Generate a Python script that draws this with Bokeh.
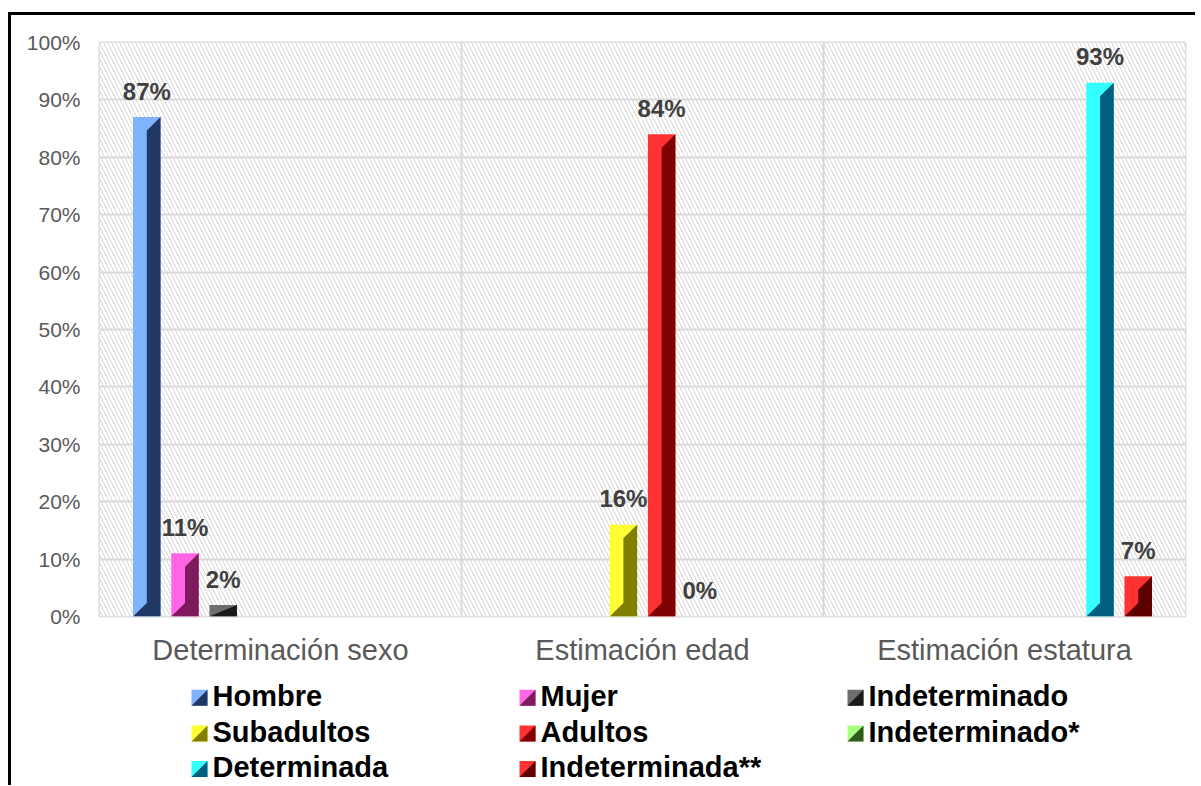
from bokeh.plotting import figure
from bokeh.models import Range1d, FixedTicker, ColumnDataSource
from bokeh.layouts import column
from bokeh.embed import file_html
from bokeh.resources import INLINE
from bokeh.core.properties import value

# ---------------- data ----------------
categories = ["Determinación sexo", "Estimación edad", "Estimación estatura"]
series = ["Hombre", "Mujer", "Indeterminado", "Subadultos", "Adultos",
          "Indeterminado*", "Determinada", "Indeterminada**"]
series_category = [0, 0, 0, 1, 1, 1, 2, 2]
values = [87, 11, 2, 16, 84, 0, 93, 7]
light_colors = ["#80b3ff", "#ff66e6", "#6e6e6e", "#ffff33", "#ff3333",
                "#a9ff80", "#33ffff", "#ff3333"]
dark_colors = ["#1f3864", "#7f1a5c", "#1a1a1a", "#7f7f00", "#7f0000",
               "#2f5a1f", "#005f7f", "#5c0000"]
y_ticks = [0, 10, 20, 30, 40, 50, 60, 70, 80, 90, 100]
y_tick_labels = ["0%", "10%", "20%", "30%", "40%", "50%", "60%", "70%",
                 "80%", "90%", "100%"]

# ---------------- layout constants ----------------
PAGE_X, PAGE_Y = 11, 15          # where the figures start (inside the black frame)
FRAME_L, FRAME_T = 99, 42        # plot area, window pixels
FRAME_W, FRAME_H = 1086, 574
MAIN_BOTTOM = 672                # window y where the legend panel starts
LG_H = 113
RIGHT_B = 10

n_cat = len(categories)
n_series = len(series)
px_x = n_cat / FRAME_W
px_y = 100.0 / FRAME_H
slot = 38.2 * px_x
bar_w = 27.5 * px_x
bevel_px = 13.5
label_gap_px = 26

centers = [c + 0.5 + (i - (n_series - 1) / 2) * slot
           for i, c in enumerate(series_category)]

bars = ColumnDataSource(dict(
    left=[c - bar_w / 2 for c in centers],
    right=[c + bar_w / 2 for c in centers],
    top=values,
    color=light_colors,
))

xs, ys, dcols = [], [], []
for c, v, dc in zip(centers, values, dark_colors):
    if v <= 0:
        continue
    b = min(bevel_px, v / px_y / 2)
    by = b * px_y
    l, r = c - bar_w / 2, c + bar_w / 2
    xs.append([c, r, r, l, c])
    ys.append([v - by, v, 0, 0, by])
    dcols.append(dc)
shades = ColumnDataSource(dict(xs=xs, ys=ys, color=dcols))

labels = ColumnDataSource(dict(
    x=centers,
    y=[v + label_gap_px * px_y for v in values],
    text=[f"{v}%" for v in values],
))

# ---------------- main chart ----------------
p = figure(frame_width=FRAME_W, frame_height=FRAME_H,
           x_range=Range1d(0, n_cat), y_range=Range1d(0, 100),
           output_backend="svg", toolbar_location=None,
           min_border_left=FRAME_L - PAGE_X, min_border_right=RIGHT_B,
           min_border_top=FRAME_T - PAGE_Y,
           min_border_bottom=MAIN_BOTTOM - (FRAME_T + FRAME_H),
           background_fill_color="white", border_fill_color="white")

p.quad(left=0, right=n_cat, bottom=0, top=100, fill_color="white",
       line_color=None, hatch_pattern="left_diagonal_line",
       hatch_color="#d4d4d4", hatch_scale=8, hatch_weight=1, level="image")

p.xaxis.ticker = FixedTicker(ticks=[i + 0.5 for i in range(n_cat)])
p.xaxis.major_label_overrides = {i + 0.5: cat for i, cat in enumerate(categories)}
p.yaxis.ticker = FixedTicker(ticks=y_ticks)
p.yaxis.major_label_overrides = {t: l for t, l in zip(y_ticks, y_tick_labels)}

for ax in (p.xaxis, p.yaxis):
    ax.axis_line_color = None
    ax.major_tick_line_color = None
    ax.minor_tick_line_color = None
    ax.major_tick_out = 0
    ax.major_tick_in = 0
    ax.major_label_text_font = "Liberation Sans"
    ax.major_label_text_color = "#595959"
p.xaxis.major_label_text_font_size = "29px"
p.xaxis.major_label_standoff = 17
p.yaxis.major_label_text_font_size = "21px"
p.yaxis.major_label_standoff = 19

p.xgrid.ticker = FixedTicker(ticks=list(range(1, n_cat)))
p.ygrid.ticker = FixedTicker(ticks=y_ticks)
for g in (p.xgrid, p.ygrid):
    g.grid_line_color = "#d9d9d9"
    g.grid_line_width = 2
p.outline_line_color = "#d9d9d9"
p.outline_line_width = 2

p.quad(left="left", right="right", bottom=0, top="top", source=bars,
       fill_color="color", line_color=None)
p.patches(xs="xs", ys="ys", source=shades, fill_color="color", line_color=None)
p.text(x="x", y="y", text="text", source=labels,
       text_font=value("Liberation Sans"), text_font_style="bold",
       text_font_size="24px", text_align="center",
       text_baseline="alphabetic", text_color="#404040")

# ---------------- legend panel (frame aligned with the plot area) ----------------
lg = figure(frame_width=FRAME_W, frame_height=LG_H,
            x_range=Range1d(FRAME_L, FRAME_L + FRAME_W),
            y_range=Range1d(MAIN_BOTTOM + LG_H, MAIN_BOTTOM),
            output_backend="svg", toolbar_location=None,
            min_border_left=FRAME_L - PAGE_X, min_border_right=RIGHT_B,
            min_border_top=0, min_border_bottom=0,
            x_axis_type=None, y_axis_type=None,
            outline_line_color=None, background_fill_color="white",
            border_fill_color="white")
lg.grid.visible = False

col_x = [191, 519, 847]
row_top = [689.3, 725.1, 760.6]
sq = 16
text_shift = 10
sq_l, sq_r, sq_t, sq_b, tri_x, tri_y = [], [], [], [], [], []
tx, ty = [], []
for i in range(n_series):
    r, c = divmod(i, 3)
    x0, y0 = col_x[c], row_top[r]
    sq_l.append(x0); sq_r.append(x0 + sq); sq_t.append(y0); sq_b.append(y0 + sq)
    tri_x.append([x0, x0 + sq, x0 + sq]); tri_y.append([y0 + sq, y0 + sq, y0])
    tx.append(x0 + sq + 5); ty.append(y0 + sq - text_shift)

lg.quad(left=sq_l, right=sq_r, top=sq_t, bottom=sq_b,
        fill_color=light_colors, line_color=None)
lg.patches(xs=tri_x, ys=tri_y, fill_color=dark_colors, line_color=None)
lg.text(x=tx, y=ty, text=series, text_font=value("Liberation Sans"),
        text_font_style="bold", text_font_size="29px", text_color="black",
        text_align="left", text_baseline="alphabetic")

layout = column(p, lg, spacing=0, margin=(12, 0, 0, 8),
                styles={"border-left": "3px solid black",
                        "border-top": "3px solid black"})
open("out.html", "w").write(file_html(layout, INLINE))
